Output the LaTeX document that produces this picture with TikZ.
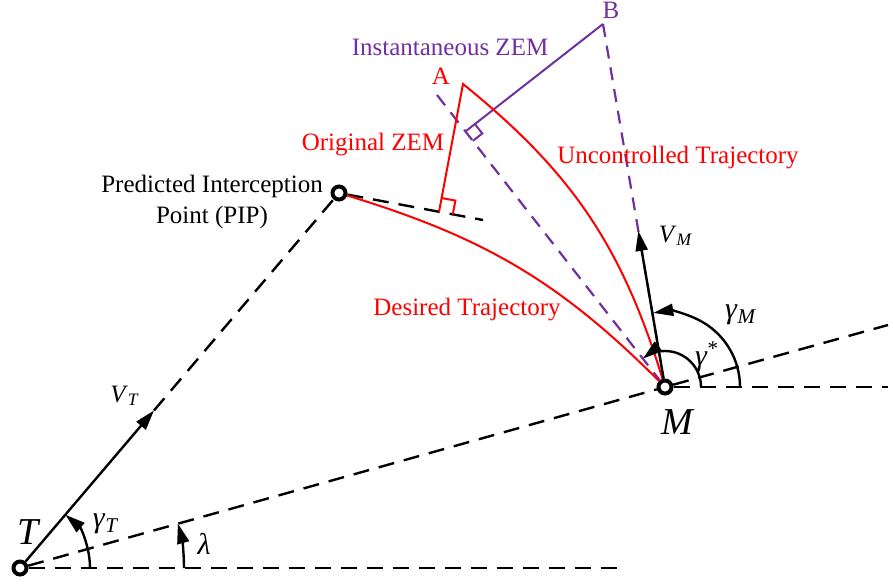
\documentclass[tikz,border=0pt]{standalone}
\usepackage{fontspec}
\setmainfont{Liberation Serif}
\usetikzlibrary{arrows.meta,calc}
\definecolor{zempurple}{RGB}{112,48,160}

\begin{document}
\begin{tikzpicture}[x=0.5pt,y=0.5pt,>={Triangle[length=10pt,width=6pt]},
pt/.style={circle,draw,line width=2pt,inner sep=0pt,minimum size=6.5pt},
dline/.style={dash pattern=on 8pt off 5pt,line width=1.2pt},
arrow/.style={->,line width=1.2pt},
lbl/.style={font=\fontsize{12.5}{15.5}\selectfont,inner sep=1pt},
greek/.style={font=\fontsize{15}{18}\selectfont,inner sep=1pt},
big/.style={font=\fontsize{19}{22}\selectfont\itshape,inner sep=1pt},
traj/.style={red,line width=1pt},
zem/.style={zempurple,line width=1pt},
zdash/.style={zempurple,dash pattern=on 6.5pt off 4.5pt,line width=1.1pt}]
\useasboundingbox (0,0) rectangle (893,586);
\node[pt] (T) at (20,18) {};
\node[pt] (M) at (665,199) {};
\node[pt] (PIP) at (339,393) {};
\coordinate (hT) at (620,18);
\coordinate (hM) at (888,199);
\coordinate (los) at (888,261);
\coordinate (pe) at (483,366);
\coordinate (A) at (463,502);
\coordinate (B) at (603,562);
\coordinate (Z) at (437,491);
\coordinate (F1) at ($(PIP)!(A)!(pe)$);
\coordinate (F2) at ($(M)!(B)!(Z)$);
\coordinate (vt) at ($(T)!0.42!(PIP)$);
\coordinate (vm) at ($(M)!0.43!(B)$);
% reference lines
\draw[dline] (T) -- (hT);
\draw[dline] (M) -- (hM);
\draw[dline] (T) -- (M);
\draw[dline] (M) -- (los);
\draw[dline] (vt) -- (PIP);
\draw[dline] (PIP) -- (pe);
% ZEM construction
\draw[zdash] (Z) -- (M);
\draw[zdash] (B) -- (M);
\draw[zem] (B) -- (F2);
\coordinate (q1) at ($(F2)!6pt!(B)$);
\coordinate (q2) at ($(F2)!6pt!(M)$);
\draw[zem] (q1) -- ($(q1)+(q2)-(F2)$) -- (q2);
\coordinate (r1) at ($(F1)!7pt!(pe)$);
\coordinate (r2) at ($(F1)!7pt!(A)$);
\draw[traj] (r1) -- ($(r1)+(r2)-(F1)$) -- (r2);
% trajectories
\draw[traj] (F1) -- (A) to[out=-39,in=107] (M);
\draw[traj] (PIP) to[out=-17,in=135] (M);
% velocities and angles
\draw[arrow] (T) -- (vt);
\draw[arrow] (M) -- (vm);
\draw[arrow] ([shift={(0:35pt)}]T.center) arc[start angle=0,end angle=49.6,radius=35pt];
\draw[arrow] ([shift={(0:82pt)}]T.center) arc[start angle=0,end angle=15.7,radius=82pt];
\draw[arrow] ([shift={(0:18pt)}]M.center) arc[start angle=0,end angle=128,radius=18pt];
\draw[arrow] ([shift={(0:37.5pt)}]M.center) arc[start angle=0,end angle=99,radius=37.5pt];
% labels
\node[big] (Tl) at (28,54) {T};
\node[big] (Ml) at (677,164) {M};
\node[lbl] (VTl) at (125,190) {\textit{V}\textsubscript{\textit{T}}};
\node[greek] (gTl) at (106,62) {\textit{γ}\textsubscript{\textit{T}}};
\node[greek] (lam) at (204,42) {\textit{λ}};
\node[lbl] (VMl) at (676,350) {\textit{V}\textsubscript{\textit{M}}};
\node[greek] (gMl) at (741,271) {\textit{γ}\textsubscript{\textit{M}}};
\node[greek] (gsl) at (707,229) {\textit{γ}\textsuperscript{*}};
\node[lbl,align=center] (PIPl) at (212,384) {Predicted Interception\\Point (PIP)};
\node[lbl,red] (oz) at (373,441) {Original ZEM};
\node[lbl,red] (Al) at (441,510) {A};
\node[lbl,zempurple] (Bl) at (611,576) {B};
\node[lbl,zempurple] (iz) at (450,539) {Instantaneous ZEM};
\node[lbl,red] (ut) at (678,428) {Uncontrolled Trajectory};
\node[lbl,red] (dt) at (467,276) {Desired Trajectory};
\end{tikzpicture}
\end{document}
